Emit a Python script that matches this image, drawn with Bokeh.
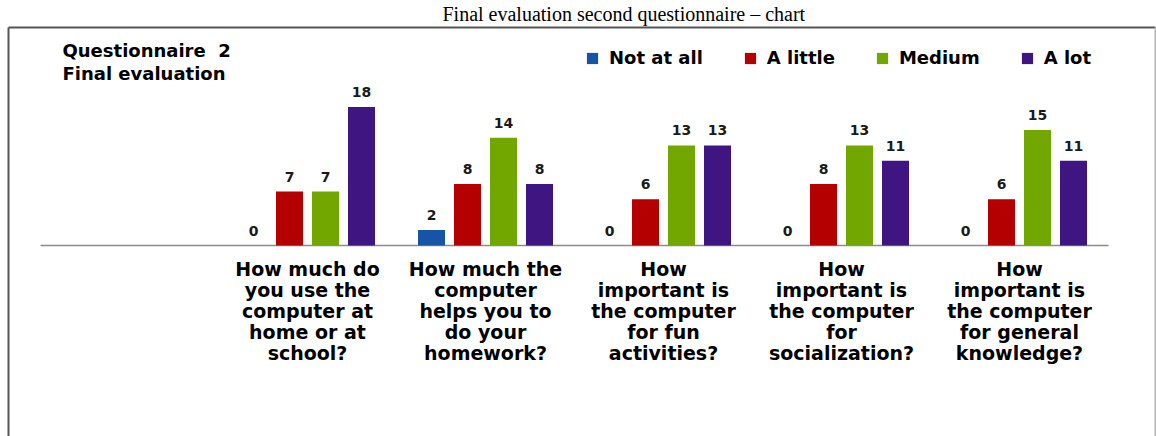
from bokeh.plotting import figure
from bokeh.models import ColumnDataSource, Legend, LegendItem, Range1d
from bokeh.transform import dodge
from bokeh.core.properties import value
from bokeh.embed import file_html
from bokeh.resources import INLINE

# ---- data ----
chart_title = "Final evaluation second questionnaire \u2013 chart"
caption_lines = ["Questionnaire\u00a0\u00a02", "Final evaluation"]
category_lines = [
    ["How much do", "you use the", "computer at", "home or at", "school?"],
    ["How much the", "computer", "helps you to", "do your", "homework?"],
    ["How", "important is", "the computer", "for fun", "activities?"],
    ["How", "important is", "the computer", "for", "socialization?"],
    ["How", "important is", "the computer", "for general", "knowledge?"],
]
series_names = ["Not at all", "A little", "Medium", "A lot"]
not_at_all = [0, 2, 0, 0, 0]
a_little = [7, 8, 6, 8, 6]
medium = [7, 14, 13, 13, 15]
a_lot = [18, 8, 13, 11, 11]
series_values = [not_at_all, a_little, medium, a_lot]
colors = ["#1655A6", "#B50000", "#72A700", "#3E1581"]

# ---- layout constants ----
FONT = value("DejaVu Sans")
n_cat = len(category_lines)
px_per_x = 178.0
px_per_y = 7.7
frame_left, frame_right, frame_top, frame_bottom = 0, 1156, 24, 436
plot_left_px, zero_px = 40, 245


def xd(px):
    return (px - plot_left_px) / px_per_x - 1.5


def yd(py):
    return (zero_px - py) / px_per_y


p = figure(width=1156, height=436,
           x_range=Range1d(xd(frame_left), xd(frame_right)),
           y_range=Range1d(yd(frame_bottom), yd(frame_top)),
           output_backend="svg", toolbar_location=None,
           x_axis_type=None, y_axis_type=None,
           min_border_left=frame_left, min_border_right=1156 - frame_right,
           min_border_top=frame_top, min_border_bottom=0,
           outline_line_color=None, background_fill_color="white",
           border_fill_color="white")
p.title.text = chart_title
p.title.text_font = "Liberation Serif"
p.title.text_font_style = "normal"
p.title.text_font_size = "20px"
p.title.text_color = "#000000"
p.title.align = "left"
p.title.offset = 442
p.title.standoff = 0

# chart box (open at the bottom): left, top, right edges
p.segment(x0=[xd(8), xd(8), xd(1155)], x1=[xd(8), xd(1155), xd(1155)],
          y0=[yd(440), yd(27), yd(27)], y1=[yd(27), yd(27), yd(440)],
          line_color=["#555555", "#555555", "#b5b5b5"], line_width=2)

# baseline
p.segment(x0=[-1.5], x1=[n_cat - 0.5], y0=[0], y1=[0],
          line_color="#8c8c8c", line_width=1.5)

bar_w = 27 / px_per_x
offsets = [(-1.5 + k) * 36 / px_per_x for k in range(4)]
items = []
for name, vals, col, off in zip(series_names, series_values, colors, offsets):
    src = ColumnDataSource(dict(x=list(range(n_cat)), top=vals,
                                label=[str(v) for v in vals]))
    r = p.vbar(x=dodge("x", off, range=p.x_range), top="top", width=bar_w,
               source=src, fill_color=col, line_color=None)
    p.text(x=dodge("x", off, range=p.x_range), y="top", text="label",
           source=src, text_align="center", text_baseline="alphabetic",
           y_offset=-15, text_font=FONT, text_font_style="bold",
           text_font_size="14px", text_color="#1a1a1a")
    items.append(LegendItem(label=name, renderers=[r]))

# category labels (one text row per line)
for k in range(5):
    p.text(x=list(range(n_cat)), y=[0] * n_cat,
           text=[lines[k] for lines in category_lines],
           y_offset=23 + 21 * k, text_align="center", text_baseline="middle",
           text_font=FONT, text_font_style="bold", text_font_size="19px",
           text_color="#000000")

# caption top-left
p.text(x=[xd(62)] * 2, y=[yd(50), yd(73)],
       text=caption_lines, text_align="left", text_baseline="middle",
       text_font=FONT, text_font_style="bold", text_font_size="18px",
       text_color="#000000")

legend = Legend(items=items, orientation="horizontal",
                location=(585, frame_bottom - 68),
                margin=0, padding=0, spacing=40, label_standoff=10,
                glyph_width=14, glyph_height=14,
                label_text_font="DejaVu Sans", label_text_font_style="bold",
                label_text_font_size="18px", label_text_color="#000000",
                border_line_color=None, background_fill_alpha=0)
p.add_layout(legend)

open("out.html", "w").write(file_html(p, INLINE))
